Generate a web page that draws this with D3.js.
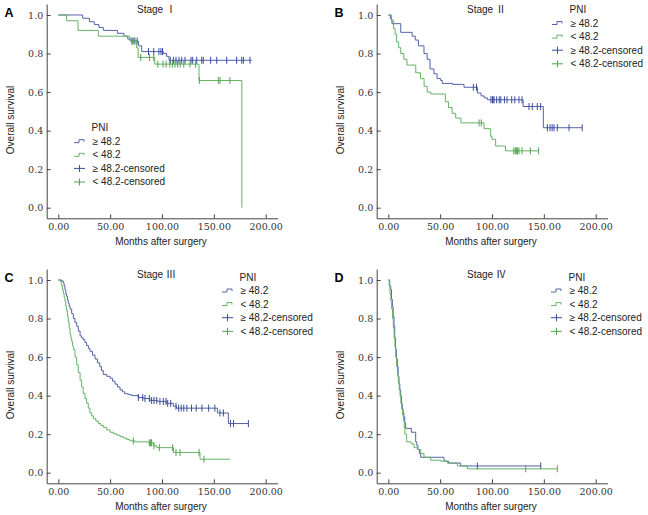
<!DOCTYPE html>
<html>
<head>
<meta charset="utf-8">
<script src="https://cdn.jsdelivr.net/npm/d3@7"></script>
<style>
body { margin: 0; background: #fff; }
.axis path, .axis line { stroke: #444; }
.axis text { fill: #333; font-family: "DejaVu Serif", serif; font-size: 9.5px; }
.lbl { fill: #222; font-family: "Liberation Sans", Arial, sans-serif; font-size: 10px; }
</style>
</head>
<body>
<script>
// ---- data: Kaplan-Meier steps [months, survival], censor times ----
var xTicks = [0, 50, 100, 150, 200],
    xTickLabels = ["0.00", "50.00", "100.00", "150.00", "200.00"],
    yTicks = [0, 0.2, 0.4, 0.6, 0.8, 1.0],
    yTickLabels = ["0.0", "0.2", "0.4", "0.6", "0.8", "1.0"];

var seriesNames = ["\u2265 48.2", "< 48.2", "\u2265 48.2-censored", "< 48.2-censored"];

var stage1High = [[0,1],[23.5,.983],[30,.965],[34.7,.95],[39.2,.935],[43.4,.92],[57,.905],[63.3,.89],[67,.875],[70,.865],[77.2,.84],[80.4,.81],[101.3,.80],[104.5,.785],[106.8,.765],[186.5,.765]];
var stage1HighCens = [71,73,76,87,92,97,99,100.5,108,111,113.5,116.4,119,122.2,128,129.6,133.5,138.3,139.8,146.9,152.8,162.4,172,176.9,178.5,184.9];
var stage1Low = [[0,1],[8,.97],[19,.92],[38.6,.89],[69,.865],[75.5,.83],[77,.78],[93,.745],[135.7,.66],[177,0]];
var stage1LowCens = [72,74,79.5,88,92,96,101,104,107.5,110,112.5,115,117.5,121,127,132.5,136,154.3,156,165.5];

var stage2High = [[0,1],[2,.98],[3.5,.955],[12,.91],[23,.89],[26,.87],[29,.84],[34.4,.80],[37.5,.77],[40.2,.72],[44,.695],[47,.67],[50.5,.66],[52,.645],[62,.64],[73,.625],[86,.595],[89.5,.58],[92.5,.57],[95.5,.56],[130,.525],[149.5,.415],[187,.415]];
var stage2HighCens = [82,85,99,100.5,101,102,104.5,107,108.5,112,114.5,119,122,126,129,135.7,138.9,143.7,146.9,153.4,156,158,159.8,163,174.3,187];
var stage2Low = [[0,1],[3,.97],[5,.93],[6.5,.90],[8,.86],[10,.83],[12,.80],[15,.77],[18,.74],[26.5,.70],[31,.67],[34.5,.63],[37.5,.60],[41,.59],[55,.55],[58,.52],[61.5,.49],[65,.465],[70,.44],[92.3,.41],[98.7,.37],[100,.355],[103.5,.32],[113,.295],[145,.295]];
var stage2LowCens = [87.5,89.7,121,122.5,123.5,124.5,126,129,137,145];

var stage3High = [[0,1],[3,.995],[4.8,.985],[5.6,.97],[6.4,.95],[7.2,.93],[8,.915],[8.8,.895],[9.6,.88],[10.5,.865],[11.3,.85],[12.9,.825],[14.5,.80],[16,.78],[17.7,.76],[19.3,.735],[21,.71],[22.5,.70],[24,.69],[25.7,.675],[27.3,.66],[29,.645],[30.5,.63],[33,.61],[35.4,.59],[37.7,.57],[40,.55],[41.7,.53],[43.4,.51],[46.7,.50],[50,.49],[52.3,.475],[54.7,.46],[57,.445],[59.5,.43],[61.8,.42],[64,.41],[67.4,.405],[70.7,.40],[77,.39],[82,.385],[88.4,.375],[96,.37],[104.5,.36],[111,.345],[114,.335],[153.4,.31],[164,.255],[183.3,.255]];
var stage3HighCens = [77.2,81.4,83.6,87.8,90,92.3,94.9,98,101.3,103.9,105.5,108.4,113.5,116,118.5,121,124,128.5,133,138.5,145,151,155.9,159.2,166,169,183.3];
var stage3Low = [[0,1],[2,.99],[3.2,.97],[4,.95],[4.8,.93],[5.6,.91],[6.4,.89],[7.2,.865],[8,.84],[8.8,.81],[9.6,.78],[10.5,.75],[11.3,.72],[12.1,.70],[12.9,.68],[13.7,.66],[14.5,.64],[16.1,.60],[17.7,.56],[19.3,.52],[21,.48],[22.5,.445],[24,.41],[25.7,.385],[27.3,.36],[28.9,.335],[30.5,.31],[32.2,.295],[33.8,.28],[36.2,.268],[38.6,.255],[41,.245],[43.4,.235],[46.7,.222],[50,.21],[53,.202],[56.3,.195],[59.5,.187],[62.7,.18],[66,.172],[69,.165],[74,.16],[86.8,.155],[91.6,.14],[94.9,.13],[111,.105],[136.7,.07],[165.6,.07]];
var stage3LowCens = [72.3,87.8,89,90,92.3,97.4,110.3,113.5,117.4,135.7,140.5];

var stage4High = [[0,1],[1.3,.97],[2.3,.95],[3.1,.90],[3.9,.86],[4.7,.81],[5.5,.76],[6.2,.70],[7,.64],[7.8,.59],[8.7,.55],[9.5,.50],[10.3,.46],[11.1,.43],[11.9,.40],[12.7,.36],[13.5,.33],[14.3,.31],[15,.29],[15.8,.26],[16.7,.23],[22.2,.21],[26.4,.16],[27.5,.14],[28.6,.12],[29.9,.10],[31.2,.08],[53.7,.06],[58,.05],[69.8,.035],[147,.035]];
var stage4HighCens = [85.9,147];
var stage4Low = [[0,1],[0.8,.97],[1.6,.93],[2.4,.89],[3.2,.85],[4,.80],[4.8,.75],[5.6,.70],[6.4,.65],[7.2,.60],[8,.55],[8.8,.51],[9.6,.47],[10.5,.43],[11.3,.40],[12.1,.36],[12.9,.33],[13.7,.30],[14.5,.27],[15.3,.235],[16,.20],[17.7,.16],[22,.15],[24.8,.13],[28,.12],[31.2,.10],[34.4,.08],[40.8,.065],[50.5,.06],[57,.05],[66.6,.035],[76.2,.02],[163,.02]];
var stage4LowCens = [132.5,163];

// ---- layout ----
var width = 648, height = 515;
var blue = "#5262a8", green = "#66b266", blueMark = "#3b4c9c", greenMark = "#4fa44f";

var panels = [
  {letter: "A", title: "Stage \u2160", dx: 0,   dy: 0,   hi: stage1High, hiC: stage1HighCens, lo: stage1Low, loC: stage1LowCens, lx: 74,  ly: 127.7},
  {letter: "B", title: "Stage \u2161", dx: 330, dy: 0,   hi: stage2High, hiC: stage2HighCens, lo: stage2Low, loC: stage2LowCens, lx: 222, ly: 9.5},
  {letter: "C", title: "Stage \u2162", dx: 0,   dy: 265, hi: stage3High, hiC: stage3HighCens, lo: stage3Low, loC: stage3LowCens, lx: 222, ly: 12},
  {letter: "D", title: "Stage \u2163", dx: 330, dy: 265, hi: stage4High, hiC: stage4HighCens, lo: stage4Low, loC: stage4LowCens, lx: 221, ly: 12}
];

var svg = d3.select("body").append("svg")
    .attr("width", width)
    .attr("height", height);

// axis lines run a little past the 0 and 200 ticks, as in the figure
var x = d3.scaleLinear().domain([-11.2, 211.4]).range([46.7, 277.5]);
var y = d3.scaleLinear().domain([-0.055, 1.057]).range([218.3, 4]);

var line = d3.line()
    .x(function(d) { return x(d[0]); })
    .y(function(d) { return y(d[1]); })
    .curve(d3.curveStepAfter);

function survivalAt(steps, t) {
  var s = steps[0][1];
  steps.forEach(function(d) { if (d[0] <= t) s = d[1]; });
  return s;
}

panels.forEach(drawPanel);

function drawPanel(p) {
  var g = svg.append("g")
      .attr("transform", "translate(" + p.dx + "," + p.dy + ")");

  g.append("g")
      .attr("class", "axis")
      .attr("transform", "translate(0,218.3)")
      .call(d3.axisBottom(x)
          .tickValues(xTicks)
          .tickFormat(function(d, i) { return xTickLabels[i]; })
          .tickSize(-4).tickSizeOuter(0).tickPadding(5));

  g.append("g")
      .attr("class", "axis")
      .attr("transform", "translate(46.7,0)")
      .call(d3.axisLeft(y)
          .tickValues(yTicks)
          .tickFormat(function(d, i) { return yTickLabels[i]; })
          .tickSize(-4).tickSizeOuter(0).tickPadding(3.5));

  g.selectAll(".axis text").attr("font-family", null).attr("font-size", null);

  // curves
  [[p.hi, p.hiC, blue, blueMark], [p.lo, p.loC, green, greenMark]].forEach(function(s) {
    g.append("path")
        .attr("d", line(s[0]))
        .attr("fill", "none")
        .attr("stroke", s[2])
        .attr("stroke-width", 1);

    g.selectAll(null)
        .data(s[1])
      .enter().append("line")
        .attr("x1", function(t) { return x(t); })
        .attr("x2", function(t) { return x(t); })
        .attr("y1", function(t) { return y(survivalAt(s[0], t)) - 3.5; })
        .attr("y2", function(t) { return y(survivalAt(s[0], t)) + 3.5; })
        .attr("stroke", s[3])
        .attr("stroke-width", 1);
  });

  // texts
  g.append("text")
      .attr("x", 4.5).attr("y", 17)
      .style("font-family", "Liberation Sans, Arial, sans-serif")
      .style("font-weight", "bold")
      .style("font-size", "12.5px")
      .text(p.letter);

  g.append("text")
      .attr("class", "lbl")
      .attr("x", 137).attr("y", 13)
      .style("font-family", "'Liberation Sans', 'Noto Sans CJK SC', sans-serif")
      .text(p.title);

  g.append("text")
      .attr("class", "lbl")
      .attr("x", 161).attr("y", 244.5)
      .attr("text-anchor", "middle")
      .text("Months after surgery");

  g.append("text")
      .attr("class", "lbl")
      .attr("transform", "translate(13.5,120) rotate(-90)")
      .attr("text-anchor", "middle")
      .text("Overall survival");

  // legend
  var lg = g.append("g")
      .attr("transform", "translate(" + p.lx + "," + p.ly + ")");

  lg.append("text")
      .attr("class", "lbl")
      .attr("x", 17.5).attr("y", 3.5)
      .text("PNI");

  seriesNames.forEach(function(name, i) {
    var cy = 13.5 + i * 13.6,
        col = i % 2 === 0 ? blue : green;
    if (i < 2) {
      lg.append("path")
          .attr("d", "M0," + (cy + 1.5) + "H5V" + (cy - 1.5) + "H10V" + (cy + 0.5))
          .attr("fill", "none")
          .attr("stroke", col);
    } else {
      lg.append("path")
          .attr("d", "M0," + cy + "H11M5.5," + (cy - 3.5) + "V" + (cy + 3.5))
          .attr("fill", "none")
          .attr("stroke", i === 2 ? blueMark : greenMark);
    }
    lg.append("text")
        .attr("class", "lbl")
        .attr("x", 18.5).attr("y", cy + 3.5)
        .text(name);
  });
}
</script>
</body>
</html>
